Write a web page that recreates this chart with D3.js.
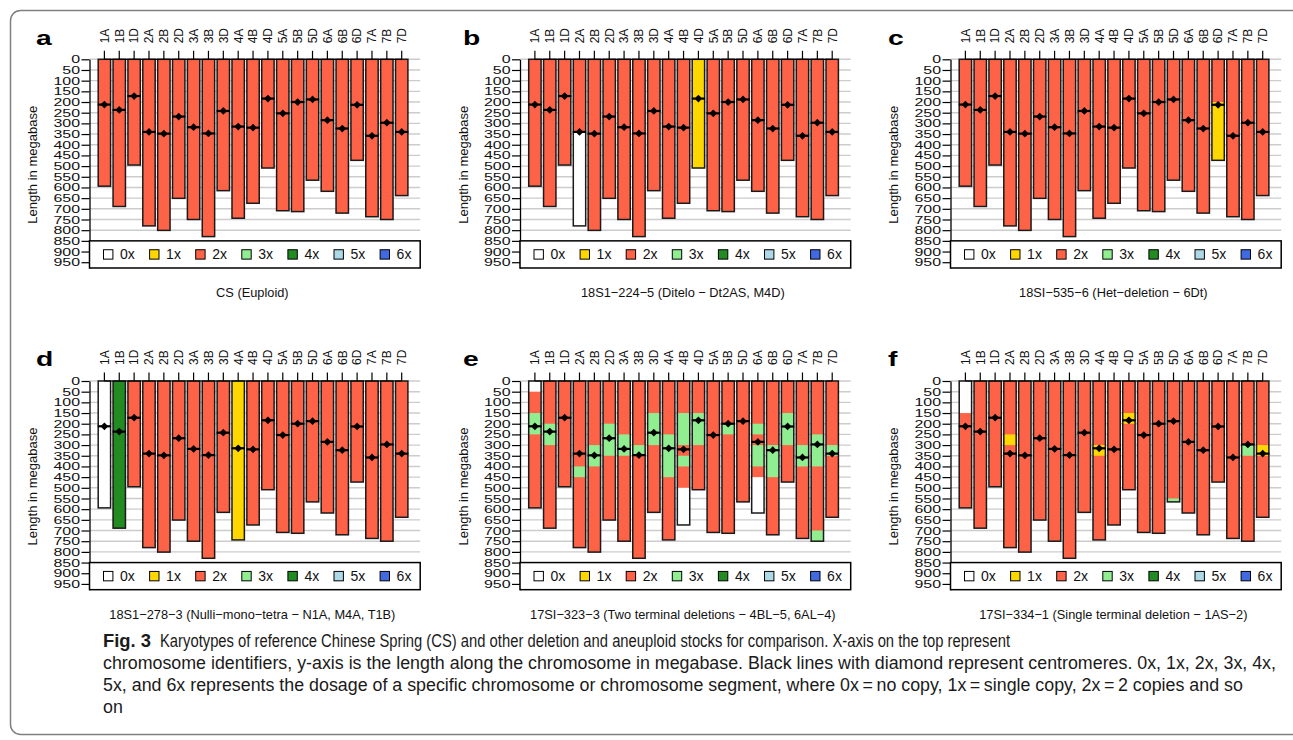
<!DOCTYPE html>
<html><head><meta charset="utf-8">
<script src="https://cdn.jsdelivr.net/npm/d3@7"></script>
<style>body{margin:0;background:#fff}svg{display:block}</style>
</head><body>
<svg width="1293" height="740"></svg>
<script>
// ---------------- data ----------------
const chromosomes = ["1A","1B","1D","2A","2B","2D","3A","3B","3D","4A","4B","4D","5A","5B","5D","6A","6B","6D","7A","7B","7D"];
const chromLengths = [594,689,495,780,801,651,750,830,615,744,674,509,709,713,566,618,720,473,737,750,638];
const centromeres = [212,237,172,340,348,268,318,347,242,315,320,184,253,200,188,285,324,213,358,297,340];
const yTicks = [0,50,100,150,200,250,300,350,400,450,500,550,600,650,700,750,800,850,900,950];
const gridTicks = [0,50,100,150,200,250,300,350,400,450,500,550,600,650,700,750,800];
const dosageLabels = ["0x","1x","2x","3x","4x","5x","6x"];
const dosageColors = ["#FFFFFF","#FFD700","#FF6347","#90EE90","#228B22","#ADD8E6","#4169E1"];
const defaultDosage = 2;
const panelLetters = ["a","b","c","d","e","f"];
const panelTitles = [
  "CS (Euploid)",
  "18S1\u2212224\u22125 (Ditelo \u2212 Dt2AS, M4D)",
  "18SI\u2212535\u22126 (Het\u2212deletion \u2212 6Dt)",
  "18S1\u2212278\u22123 (Nulli\u2212mono\u2212tetra \u2212 N1A, M4A, T1B)",
  "17SI\u2212323\u22123 (Two terminal deletions \u2212 4BL\u22125, 6AL\u22124)",
  "17SI\u2212334\u22121 (Single terminal deletion \u2212 1AS\u22122)"
];
// segments differing from 2x: [chromosome, start Mb, end Mb, dosage]
const segmentsA = [];
const segmentsB = [["2A",340,780,0],["4D",0,509,1]];
const segmentsC = [["6D",200,473,1]];
const segmentsD = [["1A",0,594,0],["1B",0,689,4],["4A",0,744,1]];
const segmentsE = [
  ["1A",0,50,0],["1A",150,250,3],["1B",200,300,3],["2A",400,450,3],["2B",300,400,3],
  ["2D",200,350,3],["3A",250,350,3],["3B",300,350,3],["3D",150,300,3],["4A",250,450,3],
  ["4B",150,300,3],["4B",350,400,3],["4B",500,674,0],["4D",150,300,3],["5B",200,250,3],
  ["6A",200,250,3],["6A",300,400,3],["6A",450,618,0],["6B",300,450,3],["6D",150,300,3],
  ["7A",300,400,3],["7B",250,400,3],["7B",700,750,3],["7D",300,350,3]
];
const segmentsF = [
  ["1A",0,150,0],["2A",250,300,1],["4A",300,350,1],["4D",150,200,1],
  ["5D",550,566,3],["7B",300,350,3],["7D",300,350,1]
];
const panelSegments = [segmentsA,segmentsB,segmentsC,segmentsD,segmentsE,segmentsF];
const captionBold = "Fig. 3";
const captionLines = [
  "Karyotypes of reference Chinese Spring (CS) and other deletion and aneuploid stocks for comparison. X-axis on the top represent",
  "chromosome identifiers, y-axis is the length along the chromosome in megabase. Black lines with diamond represent centromeres. 0x, 1x, 2x, 3x, 4x,",
  "5x, and 6x represents the dosage of a specific chromosome or chromosome segment, where 0x\u2009=\u2009no copy, 1x\u2009=\u2009single copy, 2x\u2009=\u20092 copies and so",
  "on"
];

// ---------------- layout ----------------
const svg = d3.select("svg");
const FONT = "'Liberation Sans', Arial, Helvetica, sans-serif";
svg.append("rect").attr("x",10.5).attr("y",10.5).attr("width",1330).attr("height",724)
  .attr("rx",10).attr("fill","none").attr("stroke","#808080").attr("stroke-width",1.5);

const colX = [89.5, 520, 950.5];
const rowY = [59.3, 381];
const letterX = [36, 463, 888];
const plotW = 330.7;
const yMax = 977;
const pxPerMb = 10.68/50;

panelLetters.forEach((letter, pi) => {
  const col = pi % 3, row = Math.floor(pi / 3);
  const g = svg.append("g").attr("transform", `translate(${colX[col]},${rowY[row]})`);
  const y = d3.scaleLinear().domain([0, yMax]).range([0, yMax * pxPerMb]);
  const x = d3.scaleBand().domain(chromosomes).range([8.7, 318.4]).paddingInner(0.167).paddingOuter(0);
  const bw = x.bandwidth();
  const color = d3.scaleOrdinal().domain(d3.range(7)).range(dosageColors);

  // gridlines
  g.append("g").selectAll("line").data(gridTicks).join("line")
    .attr("x1", 0).attr("x2", plotW).attr("y1", d => y(d)).attr("y2", d => y(d))
    .attr("stroke", "#cccccc").attr("stroke-width", 1.4);

  const chrData = chromosomes.map((c, i) => ({c, len: chromLengths[i], cen: centromeres[i]}));

  // base bars (2x)
  g.append("g").selectAll("rect").data(chrData).join("rect")
    .attr("x", d => x(d.c)).attr("width", bw)
    .attr("y", y(0)).attr("height", d => y(d.len) - y(0))
    .attr("fill", color(defaultDosage));

  // dosage segments
  g.append("g").selectAll("rect").data(panelSegments[pi]).join("rect")
    .attr("x", d => x(d[0])).attr("width", bw)
    .attr("y", d => y(d[1])).attr("height", d => y(d[2]) - y(d[1]))
    .attr("fill", d => color(d[3]));

  // outlines
  g.append("g").selectAll("rect").data(chrData).join("rect")
    .attr("x", d => x(d.c)).attr("width", bw)
    .attr("y", y(0)).attr("height", d => y(d.len) - y(0))
    .attr("fill", "none").attr("stroke", "#1a1a1a").attr("stroke-width", 1.5);

  // centromeres
  const cg = g.append("g");
  cg.selectAll("line").data(chrData).join("line")
    .attr("x1", d => x(d.c) - 0.5).attr("x2", d => x(d.c) + bw + 0.5)
    .attr("y1", d => y(d.cen)).attr("y2", d => y(d.cen))
    .attr("stroke", "#000").attr("stroke-width", 2.2);
  cg.selectAll("path").data(chrData).join("path")
    .attr("d", d3.symbol(d3.symbolSquare, 30))
    .attr("transform", d => `translate(${x(d.c) + bw/2},${y(d.cen)}) rotate(45)`)
    .attr("fill", "#000");

  // top axis
  const first = x(chromosomes[0]) + bw/2, last = x(chromosomes[chromosomes.length-1]) + bw/2;
  const tg = g.append("g");
  tg.append("line").attr("x1", first).attr("x2", last).attr("y1", 0).attr("y2", 0)
    .attr("stroke", "#000").attr("stroke-width", 1.2);
  tg.selectAll("line.t").data(chromosomes).join("line").attr("class","t")
    .attr("x1", d => x(d) + bw/2).attr("x2", d => x(d) + bw/2)
    .attr("y1", 0).attr("y2", -8.5).attr("stroke", "#000").attr("stroke-width", 1.2);
  tg.selectAll("text").data(chromosomes).join("text")
    .attr("transform", d => `translate(${x(d) + bw/2},-16) rotate(-90)`)
    .attr("dy", "0.36em").attr("text-anchor", "start")
    .attr("font-family", FONT).attr("font-size", 12).attr("fill", "#111").text(d => d);

  // left axis
  const ya = g.append("g").call(d3.axisLeft(y).tickValues(yTicks).tickSize(8).tickSizeOuter(0).tickPadding(1.5));
  ya.select(".domain").attr("stroke", "#000").attr("stroke-width", 1.3);
  ya.selectAll(".tick line").attr("stroke", "#000").attr("stroke-width", 1.2);
  ya.selectAll(".tick text")
    .attr("font-family", FONT).attr("font-size", 11).attr("fill", "#111")
    .attr("x", -9.5 / 1.45).attr("transform", "scale(1.45,1)");

  // legend
  const lg = g.append("g").attr("transform", `translate(0,${y(850)})`);
  const lh = y(yMax) - y(850);
  lg.append("rect").attr("x", 0).attr("y", 0).attr("width", plotW).attr("height", lh)
    .attr("fill", "#fff").attr("stroke", "#000").attr("stroke-width", 1.5);
  const items = lg.selectAll("g").data(dosageLabels).join("g")
    .attr("transform", (d, i) => `translate(${14 + i * 46.1},${lh/2})`);
  items.append("rect").attr("x", 0).attr("y", -4.7).attr("width", 9.4).attr("height", 9.4)
    .attr("fill", (d, i) => dosageColors[i]).attr("stroke", "#000").attr("stroke-width", 1);
  items.append("text").attr("x", 16.5).attr("y", 5).attr("font-family", FONT)
    .attr("font-size", 14).attr("fill", "#111").text(d => d);

  // panel letter
  svg.append("text").attr("transform", `translate(${letterX[col]},${row === 0 ? 45 : 365.5}) scale(1.45,1)`)
    .attr("font-family", FONT).attr("font-weight", "bold").attr("font-size", 19.5).attr("fill", "#000").text(letter);

  // y title
  g.append("text").attr("transform", `translate(-57,105.5) rotate(-90)`)
    .attr("text-anchor", "middle").attr("dy", "0.36em")
    .attr("font-family", FONT).attr("font-size", 13).attr("fill", "#111").text("Length in megabase");

  // subtitle
  g.append("text").attr("x", plotW/2 - 2.5).attr("y", 238.2)
    .attr("text-anchor", "middle").attr("font-family", FONT).attr("font-size", 12.8).attr("fill", "#111")
    .text(panelTitles[pi]);
});

// caption
const capG = svg.append("g").attr("font-family", FONT).attr("font-size", 17.5).attr("fill", "#1a1a1a");
const capStarts = [160, 103, 103, 103];
const capBase = [647, 668.5, 690.5, 712.5];
const capTexts = captionLines.map((t, i) => capG.append("text").attr("x", capStarts[i]).attr("y", capBase[i]).text(t));
const k = 1173 / capTexts[1].node().getComputedTextLength();
capTexts.forEach((t, i) => {
  const w = i === 0 ? 850 : t.node().getComputedTextLength() * k;
  t.attr("textLength", w).attr("lengthAdjust", "spacingAndGlyphs");
});
const figT = capG.append("text").attr("x", 103).attr("y", 647).attr("font-weight", "bold").text(captionBold);
figT.attr("textLength", 48).attr("lengthAdjust", "spacingAndGlyphs");
</script>
</body></html>
